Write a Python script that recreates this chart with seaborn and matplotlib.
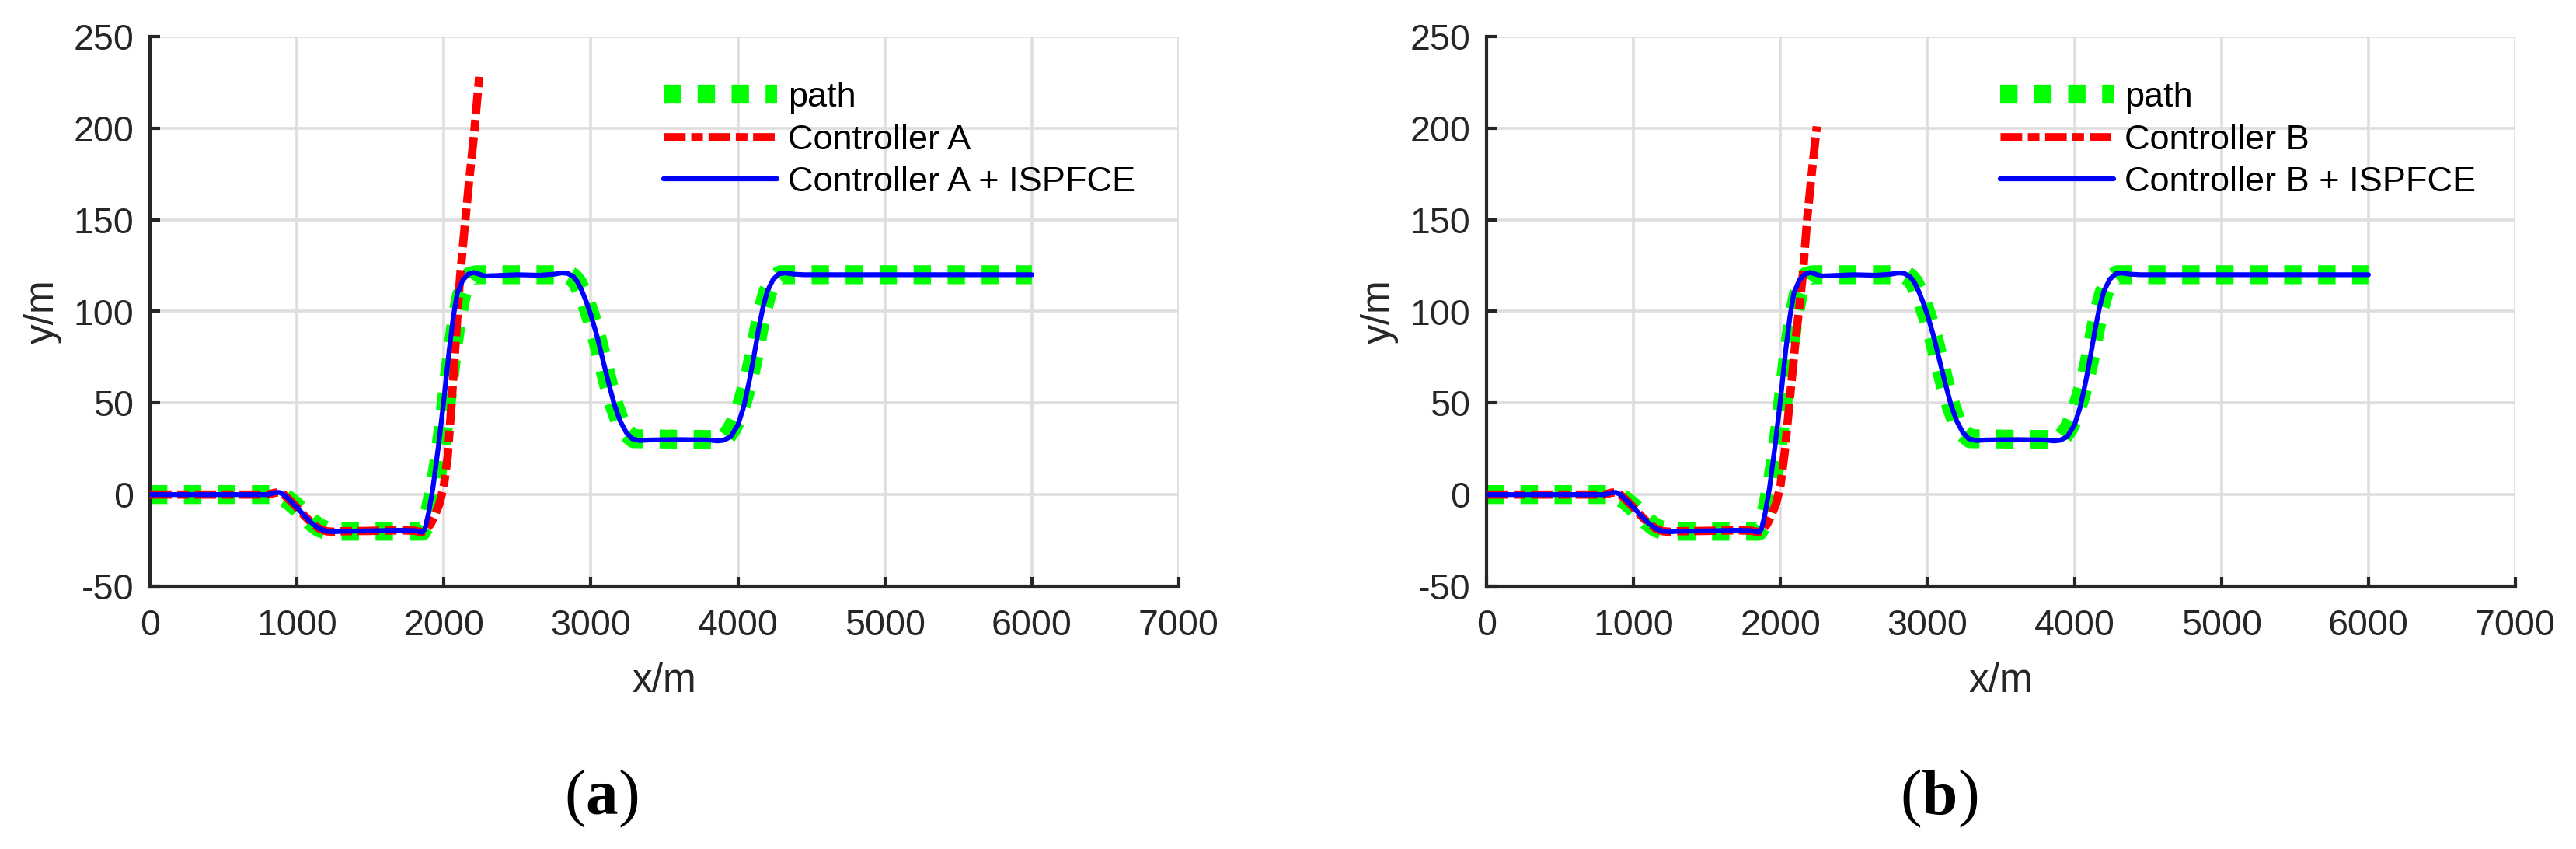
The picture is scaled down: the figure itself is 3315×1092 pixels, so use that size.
import matplotlib
matplotlib.use("Agg")
import matplotlib.pyplot as plt
import seaborn as sns

# ---------------- data ----------------
path_x = [0, 850, 900, 950, 1000, 1050, 1100, 1150, 1200, 1250, 1850, 1880, 1910, 1940,
          1970, 2000, 2030, 2060, 2090, 2120, 2150, 2180, 2220, 2850, 2880, 2910, 2940,
          2970, 3000, 3040, 3080, 3120, 3160, 3200, 3240, 3290, 3880, 3920, 3960, 4000,
          4040, 4080, 4110, 4140, 4170, 4200, 4240, 4290, 6000]
path_y = [0, 0, -1, -3.5, -7, -11, -15, -18, -19.6, -20, -20, -16, -7, 5,
          20, 39, 60, 80, 97, 109, 116, 119.3, 120, 120, 118.5, 115.5, 110.5,
          104, 97, 86, 73, 60, 48.5, 39.5, 34, 30.5, 30, 31.5, 36, 43,
          53, 65, 76, 89, 101, 110, 117, 120, 120]

ispfce_x = [0, 800, 850, 880, 910, 950, 1000, 1050, 1100, 1150, 1200, 1250, 1300, 1500,
            1700, 1800, 1850, 1870, 1896, 1925, 1962, 2000, 2036, 2064, 2091, 2128, 2165,
            2203, 2240, 2280, 2350, 2500, 2650, 2750, 2800, 2840, 2880, 2910, 2940, 2970,
            3000, 3040, 3080, 3120, 3160, 3200, 3240, 3280, 3330, 3400, 3600, 3800, 3860,
            3900, 3950, 4000, 4040, 4080, 4110, 4140, 4170, 4200, 4240, 4280, 4320, 4380,
            4450, 6000]
ispfce_y = [0, 0, 1, 1.2, 0, -3, -7, -11.5, -15.5, -18.5, -20, -20.3, -20, -19.8,
            -19.5, -19.7, -20.5, -19, -10, 3.5, 26, 52, 79, 97, 110, 117, 120.3,
            121.2, 120.3, 119.3, 119.5, 120, 119.7, 120.3, 121, 120.8, 119, 116, 111, 105,
            98, 87, 74, 61, 49, 40, 34, 30.5, 29.5, 29.8, 30, 29.8, 29.3,
            29.6, 31.5, 38, 48, 63, 76, 90, 102, 111, 117.5, 120.5, 121, 120.3,
            120, 120]

ctrl_a_x = [0, 800, 850, 880, 910, 950, 1000, 1050, 1100, 1150, 1200, 1250, 1300, 1500,
            1700, 1800, 1850, 1880, 1910, 1940, 1970, 2000, 2026, 2054, 2082, 2110, 2140,
            2170, 2203, 2240]
ctrl_a_y = [0, 0, 1, 1.2, 0, -3, -7, -11.5, -15.5, -18.5, -20, -20.3, -20, -19.8,
            -19.5, -19.7, -20.5, -19, -16, -11, -5, 5, 21, 52, 86, 119, 145,
            170, 195, 228]

ctrl_b_x = [0, 800, 850, 880, 910, 950, 1000, 1050, 1100, 1150, 1200, 1250, 1300, 1500,
            1700, 1800, 1850, 1880, 1910, 1940, 1970, 2000, 2030, 2061, 2100, 2152, 2182,
            2215, 2247]
ctrl_b_y = [0, 0, 1, 1.2, 0, -3, -7, -11.5, -15.5, -18.5, -20, -20.3, -20, -19.8,
            -19.5, -19.7, -20.5, -19, -16, -11, -5, 5, 24, 50, 82, 120, 151,
            177, 201]

x_ticks = [0, 1000, 2000, 3000, 4000, 5000, 6000, 7000]
y_ticks = [-50, 0, 50, 100, 150, 200, 250]
controller_names = ["Controller A", "Controller B"]
panel_letters = ["a", "b"]

# ---------------- styling ----------------
sns.set_theme(style="white")
plt.rcParams["font.family"] = ["Liberation Sans", "DejaVu Sans"]
plt.rcParams["mathtext.fontset"] = "custom"
plt.rcParams["mathtext.rm"] = "Liberation Serif"
plt.rcParams["mathtext.bf"] = "Liberation Serif:bold"

DARK = "#262626"
fig = plt.figure(figsize=(33.15, 10.92), dpi=100)

axes_rects = [[193 / 3315, 1 - 754 / 1092, 1324 / 3315, 707 / 1092],
              [1913 / 3315, 1 - 754 / 1092, 1324 / 3315, 707 / 1092]]
ctrl_data = [(ctrl_a_x, ctrl_a_y), (ctrl_b_x, ctrl_b_y)]
letter_x = [774 / 3315, 2495 / 3315]

for i in range(2):
    ax = fig.add_axes(axes_rects[i])
    cname = controller_names[i]
    cx, cy = ctrl_data[i]

    sns.lineplot(x=path_x, y=path_y, ax=ax, color="#00ff00", linewidth=17.5,
                 linestyle=(0, (0.92, 0.88)), dash_capstyle="butt",
                 sort=False, estimator=None, label="path", zorder=2)
    sns.lineplot(x=cx, y=cy, ax=ax, color="#ff0000", linewidth=7.7,
                 linestyle=(0, (2.6, 0.68, 1.4, 0.68)), dash_capstyle="butt",
                 sort=False, estimator=None, label=cname, zorder=3)
    sns.lineplot(x=ispfce_x, y=ispfce_y, ax=ax, color="#0000ff", linewidth=4.5,
                 solid_joinstyle="round", sort=False, estimator=None,
                 label=cname + " + ISPFCE", zorder=4)

    ax.set_xlim(0, 7000)
    ax.set_ylim(-50, 250)
    ax.set_xticks(x_ticks)
    ax.set_yticks(y_ticks)
    ax.set_xticklabels([str(v) for v in x_ticks])
    ax.set_yticklabels([str(v) for v in y_ticks])
    ax.set_axisbelow(True)
    ax.grid(True, color="#dedede", linewidth=2.6)
    for s in ["top", "right"]:
        ax.spines[s].set_visible(False)
    for s in ["left", "bottom"]:
        ax.spines[s].set_color(DARK)
        ax.spines[s].set_linewidth(3)
    ax.tick_params(axis="both", which="both", direction="in", length=9, width=3,
                   color=DARK, labelcolor=DARK, labelsize=33.5,
                   bottom=True, left=True, top=False, right=False)
    ax.tick_params(axis="x", pad=21)
    ax.tick_params(axis="y", pad=15)
    ax.set_xlabel("x/m", fontsize=37, color=DARK, labelpad=18)
    ax.set_ylabel("y/m", fontsize=37, color=DARK, labelpad=10)

    leg = ax.legend(loc="upper left", bbox_to_anchor=(0.499, 0.918), frameon=False,
                    fontsize=32.5, borderpad=0, borderaxespad=0, handlelength=3.25,
                    handletextpad=0.3, labelspacing=0.3, labelcolor="black")

    fig.text(letter_x[i], 1 - 1027 / 1092,
             r"$\mathrm{(}\mathbf{" + panel_letters[i] + r"}\mathrm{)}$",
             ha="center", va="center", fontsize=60, color="black")

fig.savefig("out.png", dpi=100)
